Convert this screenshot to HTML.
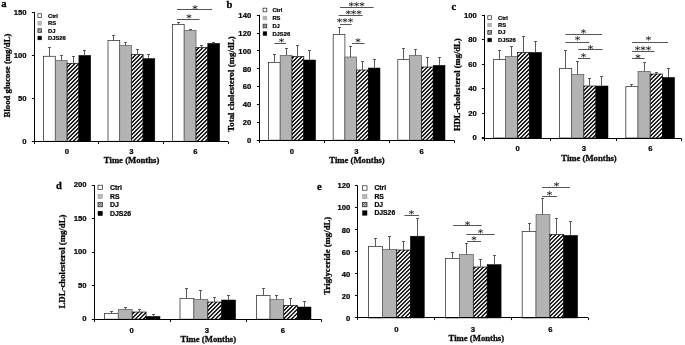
<!DOCTYPE html>
<html><head><meta charset="utf-8"><title>Figure</title>
<style>html,body{margin:0;padding:0;background:#fff;}body{width:685px;height:345px;overflow:hidden}</style>
</head><body>
<svg width="685" height="345" viewBox="0 0 685 345" style="display:block">
<defs>
<pattern id="hatch" patternUnits="userSpaceOnUse" width="3" height="3" patternTransform="translate(0.3 0)">
<rect width="3" height="3" fill="#fff"/>
<path d="M-1,1 L1,-1 M-0.5,3.5 L3.5,-0.5 M2,4 L4,2" stroke="#000" stroke-width="1.15"/>
</pattern>
<pattern id="hatchs" patternUnits="userSpaceOnUse" width="1.6" height="1.6">
<rect width="1.6" height="1.6" fill="#ddd"/>
<path d="M-0.4,0.4 L0.4,-0.4 M-0.2,1.8 L1.8,-0.2 M1.2,2 L2,1.2" stroke="#222" stroke-width="0.6"/>
</pattern>

<filter id="blur" x="-2%" y="-2%" width="104%" height="104%"><feGaussianBlur stdDeviation="0.25"/></filter>
</defs>
<rect width="685" height="345" fill="#fff"/>
<g>
<rect x="43.50" y="56.30" width="11.80" height="85.00" fill="#fff" stroke="#3a3a3a" stroke-width="0.8"/>
<rect x="55.30" y="60.50" width="11.80" height="80.80" fill="#b3b3b3" stroke="#5a5a5a" stroke-width="0.7"/>
<clipPath id="c1"><rect x="67.10" y="63.30" width="11.80" height="78.00"/></clipPath>
<rect x="67.10" y="63.30" width="11.80" height="78.00" fill="#fff"/>
<path d="M66.10,64.40L79.90,50.60M66.10,68.40L79.90,54.60M66.10,72.40L79.90,58.60M66.10,76.40L79.90,62.60M66.10,80.40L79.90,66.60M66.10,84.40L79.90,70.60M66.10,88.40L79.90,74.60M66.10,92.40L79.90,78.60M66.10,96.40L79.90,82.60M66.10,100.40L79.90,86.60M66.10,104.40L79.90,90.60M66.10,108.40L79.90,94.60M66.10,112.40L79.90,98.60M66.10,116.40L79.90,102.60M66.10,120.40L79.90,106.60M66.10,124.40L79.90,110.60M66.10,128.40L79.90,114.60M66.10,132.40L79.90,118.60M66.10,136.40L79.90,122.60M66.10,140.40L79.90,126.60M66.10,144.40L79.90,130.60M66.10,148.40L79.90,134.60M66.10,152.40L79.90,138.60M66.10,156.40L79.90,142.60" stroke="#000" stroke-width="1.32" fill="none" clip-path="url(#c1)"/>
<rect x="67.10" y="63.30" width="11.80" height="78.00" fill="none" stroke="#111" stroke-width="0.7"/>
<rect x="78.90" y="55.40" width="11.80" height="85.90" fill="#000" stroke="#000" stroke-width="0.5"/>
<rect x="108.00" y="40.40" width="11.70" height="100.90" fill="#fff" stroke="#3a3a3a" stroke-width="0.8"/>
<rect x="119.70" y="45.60" width="11.70" height="95.70" fill="#b3b3b3" stroke="#5a5a5a" stroke-width="0.7"/>
<clipPath id="c2"><rect x="131.40" y="54.40" width="11.70" height="86.90"/></clipPath>
<rect x="131.40" y="54.40" width="11.70" height="86.90" fill="#fff"/>
<path d="M130.40,56.10L144.10,42.40M130.40,60.10L144.10,46.40M130.40,64.10L144.10,50.40M130.40,68.10L144.10,54.40M130.40,72.10L144.10,58.40M130.40,76.10L144.10,62.40M130.40,80.10L144.10,66.40M130.40,84.10L144.10,70.40M130.40,88.10L144.10,74.40M130.40,92.10L144.10,78.40M130.40,96.10L144.10,82.40M130.40,100.10L144.10,86.40M130.40,104.10L144.10,90.40M130.40,108.10L144.10,94.40M130.40,112.10L144.10,98.40M130.40,116.10L144.10,102.40M130.40,120.10L144.10,106.40M130.40,124.10L144.10,110.40M130.40,128.10L144.10,114.40M130.40,132.10L144.10,118.40M130.40,136.10L144.10,122.40M130.40,140.10L144.10,126.40M130.40,144.10L144.10,130.40M130.40,148.10L144.10,134.40M130.40,152.10L144.10,138.40M130.40,156.10L144.10,142.40" stroke="#000" stroke-width="1.32" fill="none" clip-path="url(#c2)"/>
<rect x="131.40" y="54.40" width="11.70" height="86.90" fill="none" stroke="#111" stroke-width="0.7"/>
<rect x="143.10" y="58.60" width="11.70" height="82.70" fill="#000" stroke="#000" stroke-width="0.5"/>
<rect x="172.40" y="24.40" width="11.80" height="116.90" fill="#fff" stroke="#3a3a3a" stroke-width="0.8"/>
<rect x="184.20" y="30.40" width="11.80" height="110.90" fill="#b3b3b3" stroke="#5a5a5a" stroke-width="0.7"/>
<clipPath id="c3"><rect x="196.00" y="47.60" width="11.80" height="93.70"/></clipPath>
<rect x="196.00" y="47.60" width="11.80" height="93.70" fill="#fff"/>
<path d="M195.00,47.50L208.80,33.70M195.00,51.50L208.80,37.70M195.00,55.50L208.80,41.70M195.00,59.50L208.80,45.70M195.00,63.50L208.80,49.70M195.00,67.50L208.80,53.70M195.00,71.50L208.80,57.70M195.00,75.50L208.80,61.70M195.00,79.50L208.80,65.70M195.00,83.50L208.80,69.70M195.00,87.50L208.80,73.70M195.00,91.50L208.80,77.70M195.00,95.50L208.80,81.70M195.00,99.50L208.80,85.70M195.00,103.50L208.80,89.70M195.00,107.50L208.80,93.70M195.00,111.50L208.80,97.70M195.00,115.50L208.80,101.70M195.00,119.50L208.80,105.70M195.00,123.50L208.80,109.70M195.00,127.50L208.80,113.70M195.00,131.50L208.80,117.70M195.00,135.50L208.80,121.70M195.00,139.50L208.80,125.70M195.00,143.50L208.80,129.70M195.00,147.50L208.80,133.70M195.00,151.50L208.80,137.70M195.00,155.50L208.80,141.70" stroke="#000" stroke-width="1.32" fill="none" clip-path="url(#c3)"/>
<rect x="196.00" y="47.60" width="11.80" height="93.70" fill="none" stroke="#111" stroke-width="0.7"/>
<rect x="207.80" y="43.40" width="11.80" height="97.90" fill="#000" stroke="#000" stroke-width="0.5"/>
<rect x="268.40" y="62.40" width="11.80" height="77.80" fill="#fff" stroke="#3a3a3a" stroke-width="0.8"/>
<rect x="280.20" y="55.40" width="11.80" height="84.80" fill="#b3b3b3" stroke="#5a5a5a" stroke-width="0.7"/>
<clipPath id="c4"><rect x="292.00" y="56.60" width="11.80" height="83.60"/></clipPath>
<rect x="292.00" y="56.60" width="11.80" height="83.60" fill="#fff"/>
<path d="M291.00,59.50L304.80,45.70M291.00,63.50L304.80,49.70M291.00,67.50L304.80,53.70M291.00,71.50L304.80,57.70M291.00,75.50L304.80,61.70M291.00,79.50L304.80,65.70M291.00,83.50L304.80,69.70M291.00,87.50L304.80,73.70M291.00,91.50L304.80,77.70M291.00,95.50L304.80,81.70M291.00,99.50L304.80,85.70M291.00,103.50L304.80,89.70M291.00,107.50L304.80,93.70M291.00,111.50L304.80,97.70M291.00,115.50L304.80,101.70M291.00,119.50L304.80,105.70M291.00,123.50L304.80,109.70M291.00,127.50L304.80,113.70M291.00,131.50L304.80,117.70M291.00,135.50L304.80,121.70M291.00,139.50L304.80,125.70M291.00,143.50L304.80,129.70M291.00,147.50L304.80,133.70M291.00,151.50L304.80,137.70M291.00,155.50L304.80,141.70" stroke="#000" stroke-width="1.32" fill="none" clip-path="url(#c4)"/>
<rect x="292.00" y="56.60" width="11.80" height="83.60" fill="none" stroke="#111" stroke-width="0.7"/>
<rect x="303.80" y="60.00" width="11.80" height="80.20" fill="#000" stroke="#000" stroke-width="0.5"/>
<rect x="333.20" y="34.40" width="11.70" height="105.80" fill="#fff" stroke="#3a3a3a" stroke-width="0.8"/>
<rect x="344.90" y="57.00" width="11.70" height="83.20" fill="#b3b3b3" stroke="#5a5a5a" stroke-width="0.7"/>
<clipPath id="c5"><rect x="356.60" y="70.00" width="11.70" height="70.20"/></clipPath>
<rect x="356.60" y="70.00" width="11.70" height="70.20" fill="#fff"/>
<path d="M355.60,70.90L369.30,57.20M355.60,74.90L369.30,61.20M355.60,78.90L369.30,65.20M355.60,82.90L369.30,69.20M355.60,86.90L369.30,73.20M355.60,90.90L369.30,77.20M355.60,94.90L369.30,81.20M355.60,98.90L369.30,85.20M355.60,102.90L369.30,89.20M355.60,106.90L369.30,93.20M355.60,110.90L369.30,97.20M355.60,114.90L369.30,101.20M355.60,118.90L369.30,105.20M355.60,122.90L369.30,109.20M355.60,126.90L369.30,113.20M355.60,130.90L369.30,117.20M355.60,134.90L369.30,121.20M355.60,138.90L369.30,125.20M355.60,142.90L369.30,129.20M355.60,146.90L369.30,133.20M355.60,150.90L369.30,137.20M355.60,154.90L369.30,141.20" stroke="#000" stroke-width="1.32" fill="none" clip-path="url(#c5)"/>
<rect x="356.60" y="70.00" width="11.70" height="70.20" fill="none" stroke="#111" stroke-width="0.7"/>
<rect x="368.30" y="68.00" width="11.70" height="72.20" fill="#000" stroke="#000" stroke-width="0.5"/>
<rect x="397.80" y="59.60" width="11.80" height="80.60" fill="#fff" stroke="#3a3a3a" stroke-width="0.8"/>
<rect x="409.60" y="55.40" width="11.80" height="84.80" fill="#b3b3b3" stroke="#5a5a5a" stroke-width="0.7"/>
<clipPath id="c6"><rect x="421.40" y="67.00" width="11.80" height="73.20"/></clipPath>
<rect x="421.40" y="67.00" width="11.80" height="73.20" fill="#fff"/>
<path d="M420.40,70.10L434.20,56.30M420.40,74.10L434.20,60.30M420.40,78.10L434.20,64.30M420.40,82.10L434.20,68.30M420.40,86.10L434.20,72.30M420.40,90.10L434.20,76.30M420.40,94.10L434.20,80.30M420.40,98.10L434.20,84.30M420.40,102.10L434.20,88.30M420.40,106.10L434.20,92.30M420.40,110.10L434.20,96.30M420.40,114.10L434.20,100.30M420.40,118.10L434.20,104.30M420.40,122.10L434.20,108.30M420.40,126.10L434.20,112.30M420.40,130.10L434.20,116.30M420.40,134.10L434.20,120.30M420.40,138.10L434.20,124.30M420.40,142.10L434.20,128.30M420.40,146.10L434.20,132.30M420.40,150.10L434.20,136.30M420.40,154.10L434.20,140.30" stroke="#000" stroke-width="1.32" fill="none" clip-path="url(#c6)"/>
<rect x="421.40" y="67.00" width="11.80" height="73.20" fill="none" stroke="#111" stroke-width="0.7"/>
<rect x="433.20" y="65.40" width="11.80" height="74.80" fill="#000" stroke="#000" stroke-width="0.5"/>
<rect x="493.40" y="59.60" width="12.05" height="78.40" fill="#fff" stroke="#3a3a3a" stroke-width="0.8"/>
<rect x="505.45" y="56.40" width="12.05" height="81.60" fill="#b3b3b3" stroke="#5a5a5a" stroke-width="0.7"/>
<clipPath id="c7"><rect x="517.50" y="52.40" width="12.05" height="85.60"/></clipPath>
<rect x="517.50" y="52.40" width="12.05" height="85.60" fill="#fff"/>
<path d="M516.50,54.00L530.55,39.95M516.50,58.00L530.55,43.95M516.50,62.00L530.55,47.95M516.50,66.00L530.55,51.95M516.50,70.00L530.55,55.95M516.50,74.00L530.55,59.95M516.50,78.00L530.55,63.95M516.50,82.00L530.55,67.95M516.50,86.00L530.55,71.95M516.50,90.00L530.55,75.95M516.50,94.00L530.55,79.95M516.50,98.00L530.55,83.95M516.50,102.00L530.55,87.95M516.50,106.00L530.55,91.95M516.50,110.00L530.55,95.95M516.50,114.00L530.55,99.95M516.50,118.00L530.55,103.95M516.50,122.00L530.55,107.95M516.50,126.00L530.55,111.95M516.50,130.00L530.55,115.95M516.50,134.00L530.55,119.95M516.50,138.00L530.55,123.95M516.50,142.00L530.55,127.95M516.50,146.00L530.55,131.95M516.50,150.00L530.55,135.95M516.50,154.00L530.55,139.95" stroke="#000" stroke-width="1.32" fill="none" clip-path="url(#c7)"/>
<rect x="517.50" y="52.40" width="12.05" height="85.60" fill="none" stroke="#111" stroke-width="0.7"/>
<rect x="529.55" y="52.40" width="12.05" height="85.60" fill="#000" stroke="#000" stroke-width="0.5"/>
<rect x="559.60" y="68.40" width="12.10" height="69.60" fill="#fff" stroke="#3a3a3a" stroke-width="0.8"/>
<rect x="571.70" y="74.40" width="12.10" height="63.60" fill="#b3b3b3" stroke="#5a5a5a" stroke-width="0.7"/>
<clipPath id="c8"><rect x="583.80" y="86.00" width="12.10" height="52.00"/></clipPath>
<rect x="583.80" y="86.00" width="12.10" height="52.00" fill="#fff"/>
<path d="M582.80,87.70L596.90,73.60M582.80,91.70L596.90,77.60M582.80,95.70L596.90,81.60M582.80,99.70L596.90,85.60M582.80,103.70L596.90,89.60M582.80,107.70L596.90,93.60M582.80,111.70L596.90,97.60M582.80,115.70L596.90,101.60M582.80,119.70L596.90,105.60M582.80,123.70L596.90,109.60M582.80,127.70L596.90,113.60M582.80,131.70L596.90,117.60M582.80,135.70L596.90,121.60M582.80,139.70L596.90,125.60M582.80,143.70L596.90,129.60M582.80,147.70L596.90,133.60M582.80,151.70L596.90,137.60" stroke="#000" stroke-width="1.32" fill="none" clip-path="url(#c8)"/>
<rect x="583.80" y="86.00" width="12.10" height="52.00" fill="none" stroke="#111" stroke-width="0.7"/>
<rect x="595.90" y="86.00" width="12.10" height="52.00" fill="#000" stroke="#000" stroke-width="0.5"/>
<rect x="625.80" y="86.60" width="12.20" height="51.40" fill="#fff" stroke="#3a3a3a" stroke-width="0.8"/>
<rect x="638.00" y="71.40" width="12.20" height="66.60" fill="#b3b3b3" stroke="#5a5a5a" stroke-width="0.7"/>
<clipPath id="c9"><rect x="650.20" y="74.00" width="12.20" height="64.00"/></clipPath>
<rect x="650.20" y="74.00" width="12.20" height="64.00" fill="#fff"/>
<path d="M649.20,77.30L663.40,63.10M649.20,81.30L663.40,67.10M649.20,85.30L663.40,71.10M649.20,89.30L663.40,75.10M649.20,93.30L663.40,79.10M649.20,97.30L663.40,83.10M649.20,101.30L663.40,87.10M649.20,105.30L663.40,91.10M649.20,109.30L663.40,95.10M649.20,113.30L663.40,99.10M649.20,117.30L663.40,103.10M649.20,121.30L663.40,107.10M649.20,125.30L663.40,111.10M649.20,129.30L663.40,115.10M649.20,133.30L663.40,119.10M649.20,137.30L663.40,123.10M649.20,141.30L663.40,127.10M649.20,145.30L663.40,131.10M649.20,149.30L663.40,135.10M649.20,153.30L663.40,139.10" stroke="#000" stroke-width="1.32" fill="none" clip-path="url(#c9)"/>
<rect x="650.20" y="74.00" width="12.20" height="64.00" fill="none" stroke="#111" stroke-width="0.7"/>
<rect x="662.40" y="77.40" width="12.20" height="60.60" fill="#000" stroke="#000" stroke-width="0.5"/>
<rect x="104.40" y="313.40" width="13.90" height="5.80" fill="#fff" stroke="#3a3a3a" stroke-width="0.8"/>
<rect x="118.30" y="309.40" width="13.90" height="9.80" fill="#b3b3b3" stroke="#5a5a5a" stroke-width="0.7"/>
<clipPath id="c10"><rect x="132.20" y="312.00" width="13.90" height="7.20"/></clipPath>
<rect x="132.20" y="312.00" width="13.90" height="7.20" fill="#fff"/>
<path d="M131.20,315.30L147.10,299.40M131.20,319.30L147.10,303.40M131.20,323.30L147.10,307.40M131.20,327.30L147.10,311.40M131.20,331.30L147.10,315.40M131.20,335.30L147.10,319.40" stroke="#000" stroke-width="1.32" fill="none" clip-path="url(#c10)"/>
<rect x="132.20" y="312.00" width="13.90" height="7.20" fill="none" stroke="#111" stroke-width="0.7"/>
<rect x="146.10" y="316.40" width="13.90" height="2.80" fill="#000" stroke="#000" stroke-width="0.5"/>
<rect x="180.00" y="298.40" width="13.90" height="20.80" fill="#fff" stroke="#3a3a3a" stroke-width="0.8"/>
<rect x="193.90" y="299.40" width="13.90" height="19.80" fill="#b3b3b3" stroke="#5a5a5a" stroke-width="0.7"/>
<clipPath id="c11"><rect x="207.80" y="302.00" width="13.90" height="17.20"/></clipPath>
<rect x="207.80" y="302.00" width="13.90" height="17.20" fill="#fff"/>
<path d="M206.80,303.70L222.70,287.80M206.80,307.70L222.70,291.80M206.80,311.70L222.70,295.80M206.80,315.70L222.70,299.80M206.80,319.70L222.70,303.80M206.80,323.70L222.70,307.80M206.80,327.70L222.70,311.80M206.80,331.70L222.70,315.80M206.80,335.70L222.70,319.80" stroke="#000" stroke-width="1.32" fill="none" clip-path="url(#c11)"/>
<rect x="207.80" y="302.00" width="13.90" height="17.20" fill="none" stroke="#111" stroke-width="0.7"/>
<rect x="221.70" y="300.00" width="13.90" height="19.20" fill="#000" stroke="#000" stroke-width="0.5"/>
<rect x="256.40" y="295.40" width="13.65" height="23.80" fill="#fff" stroke="#3a3a3a" stroke-width="0.8"/>
<rect x="270.05" y="299.60" width="13.65" height="19.60" fill="#b3b3b3" stroke="#5a5a5a" stroke-width="0.7"/>
<clipPath id="c12"><rect x="283.70" y="305.40" width="13.65" height="13.80"/></clipPath>
<rect x="283.70" y="305.40" width="13.65" height="13.80" fill="#fff"/>
<path d="M282.70,307.80L298.35,292.15M282.70,311.80L298.35,296.15M282.70,315.80L298.35,300.15M282.70,319.80L298.35,304.15M282.70,323.80L298.35,308.15M282.70,327.80L298.35,312.15M282.70,331.80L298.35,316.15M282.70,335.80L298.35,320.15" stroke="#000" stroke-width="1.32" fill="none" clip-path="url(#c12)"/>
<rect x="283.70" y="305.40" width="13.65" height="13.80" fill="none" stroke="#111" stroke-width="0.7"/>
<rect x="297.35" y="307.00" width="13.65" height="12.20" fill="#000" stroke="#000" stroke-width="0.5"/>
<rect x="368.50" y="246.40" width="13.95" height="71.55" fill="#fff" stroke="#3a3a3a" stroke-width="0.8"/>
<rect x="382.45" y="249.40" width="13.95" height="68.55" fill="#b3b3b3" stroke="#5a5a5a" stroke-width="0.7"/>
<clipPath id="c13"><rect x="396.40" y="250.00" width="13.95" height="67.95"/></clipPath>
<rect x="396.40" y="250.00" width="13.95" height="67.95" fill="#fff"/>
<path d="M395.40,251.10L411.35,235.15M395.40,255.10L411.35,239.15M395.40,259.10L411.35,243.15M395.40,263.10L411.35,247.15M395.40,267.10L411.35,251.15M395.40,271.10L411.35,255.15M395.40,275.10L411.35,259.15M395.40,279.10L411.35,263.15M395.40,283.10L411.35,267.15M395.40,287.10L411.35,271.15M395.40,291.10L411.35,275.15M395.40,295.10L411.35,279.15M395.40,299.10L411.35,283.15M395.40,303.10L411.35,287.15M395.40,307.10L411.35,291.15M395.40,311.10L411.35,295.15M395.40,315.10L411.35,299.15M395.40,319.10L411.35,303.15M395.40,323.10L411.35,307.15M395.40,327.10L411.35,311.15M395.40,331.10L411.35,315.15M395.40,335.10L411.35,319.15" stroke="#000" stroke-width="1.32" fill="none" clip-path="url(#c13)"/>
<rect x="396.40" y="250.00" width="13.95" height="67.95" fill="none" stroke="#111" stroke-width="0.7"/>
<rect x="410.35" y="236.20" width="13.95" height="81.75" fill="#000" stroke="#000" stroke-width="0.5"/>
<rect x="445.50" y="258.40" width="13.90" height="59.55" fill="#fff" stroke="#3a3a3a" stroke-width="0.8"/>
<rect x="459.40" y="254.60" width="13.90" height="63.35" fill="#b3b3b3" stroke="#5a5a5a" stroke-width="0.7"/>
<clipPath id="c14"><rect x="473.30" y="267.00" width="13.90" height="50.95"/></clipPath>
<rect x="473.30" y="267.00" width="13.90" height="50.95" fill="#fff"/>
<path d="M472.30,270.20L488.20,254.30M472.30,274.20L488.20,258.30M472.30,278.20L488.20,262.30M472.30,282.20L488.20,266.30M472.30,286.20L488.20,270.30M472.30,290.20L488.20,274.30M472.30,294.20L488.20,278.30M472.30,298.20L488.20,282.30M472.30,302.20L488.20,286.30M472.30,306.20L488.20,290.30M472.30,310.20L488.20,294.30M472.30,314.20L488.20,298.30M472.30,318.20L488.20,302.30M472.30,322.20L488.20,306.30M472.30,326.20L488.20,310.30M472.30,330.20L488.20,314.30M472.30,334.20L488.20,318.30" stroke="#000" stroke-width="1.32" fill="none" clip-path="url(#c14)"/>
<rect x="473.30" y="267.00" width="13.90" height="50.95" fill="none" stroke="#111" stroke-width="0.7"/>
<rect x="487.20" y="264.60" width="13.90" height="53.35" fill="#000" stroke="#000" stroke-width="0.5"/>
<rect x="522.20" y="231.40" width="13.85" height="86.55" fill="#fff" stroke="#3a3a3a" stroke-width="0.8"/>
<rect x="536.05" y="214.60" width="13.85" height="103.35" fill="#b3b3b3" stroke="#5a5a5a" stroke-width="0.7"/>
<clipPath id="c15"><rect x="549.90" y="234.60" width="13.85" height="83.35"/></clipPath>
<rect x="549.90" y="234.60" width="13.85" height="83.35" fill="#fff"/>
<path d="M548.90,237.60L564.75,221.75M548.90,241.60L564.75,225.75M548.90,245.60L564.75,229.75M548.90,249.60L564.75,233.75M548.90,253.60L564.75,237.75M548.90,257.60L564.75,241.75M548.90,261.60L564.75,245.75M548.90,265.60L564.75,249.75M548.90,269.60L564.75,253.75M548.90,273.60L564.75,257.75M548.90,277.60L564.75,261.75M548.90,281.60L564.75,265.75M548.90,285.60L564.75,269.75M548.90,289.60L564.75,273.75M548.90,293.60L564.75,277.75M548.90,297.60L564.75,281.75M548.90,301.60L564.75,285.75M548.90,305.60L564.75,289.75M548.90,309.60L564.75,293.75M548.90,313.60L564.75,297.75M548.90,317.60L564.75,301.75M548.90,321.60L564.75,305.75M548.90,325.60L564.75,309.75M548.90,329.60L564.75,313.75M548.90,333.60L564.75,317.75" stroke="#000" stroke-width="1.32" fill="none" clip-path="url(#c15)"/>
<rect x="549.90" y="234.60" width="13.85" height="83.35" fill="none" stroke="#111" stroke-width="0.7"/>
<rect x="563.75" y="235.40" width="13.85" height="82.55" fill="#000" stroke="#000" stroke-width="0.5"/>
</g>
<g filter="url(#blur)">
<line x1="49.50" y1="56.30" x2="49.50" y2="47.50" stroke="#4a4a4a" stroke-width="0.9"/>
<line x1="48.00" y1="47.50" x2="51.00" y2="47.50" stroke="#4a4a4a" stroke-width="0.9"/>
<line x1="61.50" y1="60.50" x2="61.50" y2="55.50" stroke="#4a4a4a" stroke-width="0.9"/>
<line x1="60.00" y1="55.50" x2="63.00" y2="55.50" stroke="#4a4a4a" stroke-width="0.9"/>
<line x1="73.50" y1="63.30" x2="73.50" y2="56.50" stroke="#4a4a4a" stroke-width="0.9"/>
<line x1="72.00" y1="56.50" x2="75.00" y2="56.50" stroke="#4a4a4a" stroke-width="0.9"/>
<line x1="84.50" y1="55.40" x2="84.50" y2="50.50" stroke="#4a4a4a" stroke-width="0.9"/>
<line x1="83.00" y1="50.50" x2="86.00" y2="50.50" stroke="#4a4a4a" stroke-width="0.9"/>
<line x1="113.50" y1="40.40" x2="113.50" y2="35.50" stroke="#4a4a4a" stroke-width="0.9"/>
<line x1="112.00" y1="35.50" x2="115.00" y2="35.50" stroke="#4a4a4a" stroke-width="0.9"/>
<line x1="125.50" y1="45.60" x2="125.50" y2="42.50" stroke="#4a4a4a" stroke-width="0.9"/>
<line x1="124.00" y1="42.50" x2="127.00" y2="42.50" stroke="#4a4a4a" stroke-width="0.9"/>
<line x1="137.50" y1="54.40" x2="137.50" y2="49.50" stroke="#4a4a4a" stroke-width="0.9"/>
<line x1="136.00" y1="49.50" x2="139.00" y2="49.50" stroke="#4a4a4a" stroke-width="0.9"/>
<line x1="148.50" y1="58.60" x2="148.50" y2="54.50" stroke="#4a4a4a" stroke-width="0.9"/>
<line x1="147.00" y1="54.50" x2="150.00" y2="54.50" stroke="#4a4a4a" stroke-width="0.9"/>
<line x1="178.50" y1="24.40" x2="178.50" y2="22.50" stroke="#4a4a4a" stroke-width="0.9"/>
<line x1="177.00" y1="22.50" x2="180.00" y2="22.50" stroke="#4a4a4a" stroke-width="0.9"/>
<line x1="190.50" y1="30.40" x2="190.50" y2="29.50" stroke="#4a4a4a" stroke-width="0.9"/>
<line x1="189.00" y1="29.50" x2="192.00" y2="29.50" stroke="#4a4a4a" stroke-width="0.9"/>
<line x1="201.50" y1="47.60" x2="201.50" y2="45.50" stroke="#4a4a4a" stroke-width="0.9"/>
<line x1="200.00" y1="45.50" x2="203.00" y2="45.50" stroke="#4a4a4a" stroke-width="0.9"/>
<line x1="213.50" y1="43.40" x2="213.50" y2="42.50" stroke="#4a4a4a" stroke-width="0.9"/>
<line x1="212.00" y1="42.50" x2="215.00" y2="42.50" stroke="#4a4a4a" stroke-width="0.9"/>
<line x1="34.50" y1="12.20" x2="34.50" y2="143.90" stroke="#000" stroke-width="1.05"/>
<line x1="31.90" y1="141.50" x2="228.00" y2="141.50" stroke="#000" stroke-width="1.05"/>
<line x1="98.50" y1="141.50" x2="98.50" y2="144.10" stroke="#000" stroke-width="0.95"/>
<line x1="163.50" y1="141.50" x2="163.50" y2="144.10" stroke="#000" stroke-width="0.95"/>
<line x1="228.50" y1="141.50" x2="228.50" y2="144.10" stroke="#000" stroke-width="0.95"/>
<line x1="31.90" y1="12.50" x2="34.50" y2="12.50" stroke="#000" stroke-width="0.95"/>
<text x="26.50" y="15.00" font-family='"Liberation Sans", sans-serif' font-size="7.7" font-weight="bold" text-anchor="end" fill="#000"  stroke="#000" stroke-width="0.22">150</text>
<line x1="31.90" y1="55.50" x2="34.50" y2="55.50" stroke="#000" stroke-width="0.95"/>
<text x="26.50" y="58.00" font-family='"Liberation Sans", sans-serif' font-size="7.7" font-weight="bold" text-anchor="end" fill="#000"  stroke="#000" stroke-width="0.22">100</text>
<line x1="31.90" y1="98.50" x2="34.50" y2="98.50" stroke="#000" stroke-width="0.95"/>
<text x="26.50" y="101.00" font-family='"Liberation Sans", sans-serif' font-size="7.7" font-weight="bold" text-anchor="end" fill="#000"  stroke="#000" stroke-width="0.22">50</text>
<line x1="31.90" y1="141.50" x2="34.50" y2="141.50" stroke="#000" stroke-width="0.95"/>
<text x="26.50" y="144.00" font-family='"Liberation Sans", sans-serif' font-size="7.7" font-weight="bold" text-anchor="end" fill="#000"  stroke="#000" stroke-width="0.22">0</text>
<text x="67.00" y="154.00" font-family='"Liberation Sans", sans-serif' font-size="7.7" font-weight="bold" text-anchor="middle" fill="#000"  stroke="#000" stroke-width="0.22">0</text>
<text x="131.40" y="154.00" font-family='"Liberation Sans", sans-serif' font-size="7.7" font-weight="bold" text-anchor="middle" fill="#000"  stroke="#000" stroke-width="0.22">3</text>
<text x="195.40" y="154.00" font-family='"Liberation Sans", sans-serif' font-size="7.7" font-weight="bold" text-anchor="middle" fill="#000"  stroke="#000" stroke-width="0.22">6</text>
<text x="131.60" y="162.80" font-family='"Liberation Serif", serif' font-size="8.6" font-weight="bold" text-anchor="middle" fill="#111" textLength="55.5" lengthAdjust="spacingAndGlyphs" stroke="#000" stroke-width="0.28">Time (Months)</text>
<text transform="translate(9.80,75.50) rotate(-90)" font-family='"Liberation Serif", serif' font-size="8.3" font-weight="bold" text-anchor="middle" fill="#000" stroke="#000" stroke-width="0.28" textLength="83.8" lengthAdjust="spacingAndGlyphs">Blood glucose (mg/dL)</text>
<text x="1.20" y="7.20" font-family='"Liberation Serif", serif' font-size="10.5" font-weight="bold" text-anchor="start" fill="#000"  stroke="#000" stroke-width="0.28">a</text>
<rect x="37.90" y="13.75" width="3.70" height="3.70" fill="#fff" stroke="#222" stroke-width="0.7"/>
<text x="48.00" y="17.68" font-family='"Liberation Sans", sans-serif' font-size="5.8" font-weight="bold" text-anchor="start" fill="#000"  stroke="#000" stroke-width="0.22">Ctrl</text>
<rect x="37.90" y="21.35" width="3.70" height="3.70" fill="#b8b8b8" stroke="#999" stroke-width="0.5"/>
<text x="48.00" y="25.28" font-family='"Liberation Sans", sans-serif' font-size="5.8" font-weight="bold" text-anchor="start" fill="#000"  stroke="#000" stroke-width="0.22">RS</text>
<rect x="37.90" y="28.75" width="3.70" height="3.70" fill="url(#hatchs)" stroke="#222" stroke-width="0.7"/>
<text x="48.00" y="32.68" font-family='"Liberation Sans", sans-serif' font-size="5.8" font-weight="bold" text-anchor="start" fill="#000"  stroke="#000" stroke-width="0.22">DJ</text>
<rect x="37.90" y="36.15" width="3.70" height="3.70" fill="#000" stroke="#000" stroke-width="0.5"/>
<text x="48.00" y="40.08" font-family='"Liberation Sans", sans-serif' font-size="5.8" font-weight="bold" text-anchor="start" fill="#000"  stroke="#000" stroke-width="0.22">DJS26</text>
<line x1="177.00" y1="9.50" x2="212.00" y2="9.50" stroke="#555" stroke-width="1.0"/>
<text x="195.00" y="13" font-family='"Liberation Serif", serif' font-size="12" text-anchor="middle" fill="#000" text-rendering="geometricPrecision">*</text>
<line x1="177.00" y1="19.50" x2="199.40" y2="19.50" stroke="#555" stroke-width="1.0"/>
<text x="189.00" y="22" font-family='"Liberation Serif", serif' font-size="12" text-anchor="middle" fill="#000" text-rendering="geometricPrecision">*</text>
<line x1="274.50" y1="62.40" x2="274.50" y2="54.50" stroke="#4a4a4a" stroke-width="0.9"/>
<line x1="273.00" y1="54.50" x2="276.00" y2="54.50" stroke="#4a4a4a" stroke-width="0.9"/>
<line x1="286.50" y1="55.40" x2="286.50" y2="48.50" stroke="#4a4a4a" stroke-width="0.9"/>
<line x1="285.00" y1="48.50" x2="288.00" y2="48.50" stroke="#4a4a4a" stroke-width="0.9"/>
<line x1="297.50" y1="56.60" x2="297.50" y2="45.50" stroke="#4a4a4a" stroke-width="0.9"/>
<line x1="296.00" y1="45.50" x2="299.00" y2="45.50" stroke="#4a4a4a" stroke-width="0.9"/>
<line x1="309.50" y1="60.00" x2="309.50" y2="50.50" stroke="#4a4a4a" stroke-width="0.9"/>
<line x1="308.00" y1="50.50" x2="311.00" y2="50.50" stroke="#4a4a4a" stroke-width="0.9"/>
<line x1="339.50" y1="34.40" x2="339.50" y2="27.50" stroke="#4a4a4a" stroke-width="0.9"/>
<line x1="338.00" y1="27.50" x2="341.00" y2="27.50" stroke="#4a4a4a" stroke-width="0.9"/>
<line x1="350.50" y1="57.00" x2="350.50" y2="46.50" stroke="#4a4a4a" stroke-width="0.9"/>
<line x1="349.00" y1="46.50" x2="352.00" y2="46.50" stroke="#4a4a4a" stroke-width="0.9"/>
<line x1="362.50" y1="70.00" x2="362.50" y2="61.50" stroke="#4a4a4a" stroke-width="0.9"/>
<line x1="361.00" y1="61.50" x2="364.00" y2="61.50" stroke="#4a4a4a" stroke-width="0.9"/>
<line x1="374.50" y1="68.00" x2="374.50" y2="59.50" stroke="#4a4a4a" stroke-width="0.9"/>
<line x1="373.00" y1="59.50" x2="376.00" y2="59.50" stroke="#4a4a4a" stroke-width="0.9"/>
<line x1="403.50" y1="59.60" x2="403.50" y2="48.50" stroke="#4a4a4a" stroke-width="0.9"/>
<line x1="402.00" y1="48.50" x2="405.00" y2="48.50" stroke="#4a4a4a" stroke-width="0.9"/>
<line x1="415.50" y1="55.40" x2="415.50" y2="49.50" stroke="#4a4a4a" stroke-width="0.9"/>
<line x1="414.00" y1="49.50" x2="417.00" y2="49.50" stroke="#4a4a4a" stroke-width="0.9"/>
<line x1="427.50" y1="67.00" x2="427.50" y2="57.50" stroke="#4a4a4a" stroke-width="0.9"/>
<line x1="426.00" y1="57.50" x2="429.00" y2="57.50" stroke="#4a4a4a" stroke-width="0.9"/>
<line x1="439.50" y1="65.40" x2="439.50" y2="57.50" stroke="#4a4a4a" stroke-width="0.9"/>
<line x1="438.00" y1="57.50" x2="441.00" y2="57.50" stroke="#4a4a4a" stroke-width="0.9"/>
<line x1="259.50" y1="14.80" x2="259.50" y2="142.90" stroke="#000" stroke-width="1.05"/>
<line x1="256.90" y1="140.50" x2="454.40" y2="140.50" stroke="#000" stroke-width="1.05"/>
<line x1="324.50" y1="140.50" x2="324.50" y2="143.10" stroke="#000" stroke-width="0.95"/>
<line x1="389.50" y1="140.50" x2="389.50" y2="143.10" stroke="#000" stroke-width="0.95"/>
<line x1="454.50" y1="140.50" x2="454.50" y2="143.10" stroke="#000" stroke-width="0.95"/>
<line x1="256.90" y1="15.50" x2="259.50" y2="15.50" stroke="#000" stroke-width="0.95"/>
<text x="251.20" y="18.00" font-family='"Liberation Sans", sans-serif' font-size="7.7" font-weight="bold" text-anchor="end" fill="#000"  stroke="#000" stroke-width="0.22">140</text>
<line x1="256.90" y1="33.50" x2="259.50" y2="33.50" stroke="#000" stroke-width="0.95"/>
<text x="251.20" y="36.00" font-family='"Liberation Sans", sans-serif' font-size="7.7" font-weight="bold" text-anchor="end" fill="#000"  stroke="#000" stroke-width="0.22">120</text>
<line x1="256.90" y1="50.50" x2="259.50" y2="50.50" stroke="#000" stroke-width="0.95"/>
<text x="251.20" y="54.00" font-family='"Liberation Sans", sans-serif' font-size="7.7" font-weight="bold" text-anchor="end" fill="#000"  stroke="#000" stroke-width="0.22">100</text>
<line x1="256.90" y1="68.50" x2="259.50" y2="68.50" stroke="#000" stroke-width="0.95"/>
<text x="251.20" y="72.00" font-family='"Liberation Sans", sans-serif' font-size="7.7" font-weight="bold" text-anchor="end" fill="#000"  stroke="#000" stroke-width="0.22">80</text>
<line x1="256.90" y1="86.50" x2="259.50" y2="86.50" stroke="#000" stroke-width="0.95"/>
<text x="251.20" y="89.00" font-family='"Liberation Sans", sans-serif' font-size="7.7" font-weight="bold" text-anchor="end" fill="#000"  stroke="#000" stroke-width="0.22">60</text>
<line x1="256.90" y1="104.50" x2="259.50" y2="104.50" stroke="#000" stroke-width="0.95"/>
<text x="251.20" y="107.00" font-family='"Liberation Sans", sans-serif' font-size="7.7" font-weight="bold" text-anchor="end" fill="#000"  stroke="#000" stroke-width="0.22">40</text>
<line x1="256.90" y1="122.50" x2="259.50" y2="122.50" stroke="#000" stroke-width="0.95"/>
<text x="251.20" y="125.00" font-family='"Liberation Sans", sans-serif' font-size="7.7" font-weight="bold" text-anchor="end" fill="#000"  stroke="#000" stroke-width="0.22">20</text>
<line x1="256.90" y1="140.50" x2="259.50" y2="140.50" stroke="#000" stroke-width="0.95"/>
<text x="251.20" y="143.00" font-family='"Liberation Sans", sans-serif' font-size="7.7" font-weight="bold" text-anchor="end" fill="#000"  stroke="#000" stroke-width="0.22">0</text>
<text x="292.00" y="154.00" font-family='"Liberation Sans", sans-serif' font-size="7.7" font-weight="bold" text-anchor="middle" fill="#000"  stroke="#000" stroke-width="0.22">0</text>
<text x="356.40" y="154.00" font-family='"Liberation Sans", sans-serif' font-size="7.7" font-weight="bold" text-anchor="middle" fill="#000"  stroke="#000" stroke-width="0.22">3</text>
<text x="421.60" y="154.00" font-family='"Liberation Sans", sans-serif' font-size="7.7" font-weight="bold" text-anchor="middle" fill="#000"  stroke="#000" stroke-width="0.22">6</text>
<text x="357.00" y="162.80" font-family='"Liberation Serif", serif' font-size="8.6" font-weight="bold" text-anchor="middle" fill="#111" textLength="55.5" lengthAdjust="spacingAndGlyphs" stroke="#000" stroke-width="0.28">Time (Months)</text>
<text transform="translate(233.80,84.10) rotate(-90)" font-family='"Liberation Serif", serif' font-size="8.3" font-weight="bold" text-anchor="middle" fill="#000" stroke="#000" stroke-width="0.28" textLength="95.4" lengthAdjust="spacingAndGlyphs">Total cholesterol (mg/dL)</text>
<text x="226.60" y="8.40" font-family='"Liberation Serif", serif' font-size="10.5" font-weight="bold" text-anchor="start" fill="#000"  stroke="#000" stroke-width="0.28">b</text>
<rect x="263.10" y="8.15" width="3.70" height="3.70" fill="#fff" stroke="#222" stroke-width="0.7"/>
<text x="272.40" y="12.08" font-family='"Liberation Sans", sans-serif' font-size="5.8" font-weight="bold" text-anchor="start" fill="#000"  stroke="#000" stroke-width="0.22">Ctrl</text>
<rect x="263.10" y="16.15" width="3.70" height="3.70" fill="#b8b8b8" stroke="#999" stroke-width="0.5"/>
<text x="272.40" y="20.08" font-family='"Liberation Sans", sans-serif' font-size="5.8" font-weight="bold" text-anchor="start" fill="#000"  stroke="#000" stroke-width="0.22">RS</text>
<rect x="263.10" y="24.15" width="3.70" height="3.70" fill="url(#hatchs)" stroke="#222" stroke-width="0.7"/>
<text x="272.40" y="28.08" font-family='"Liberation Sans", sans-serif' font-size="5.8" font-weight="bold" text-anchor="start" fill="#000"  stroke="#000" stroke-width="0.22">DJ</text>
<rect x="263.10" y="31.75" width="3.70" height="3.70" fill="#000" stroke="#000" stroke-width="0.5"/>
<text x="272.40" y="35.68" font-family='"Liberation Sans", sans-serif' font-size="5.8" font-weight="bold" text-anchor="start" fill="#000"  stroke="#000" stroke-width="0.22">DJS26</text>
<line x1="274.40" y1="43.50" x2="286.00" y2="43.50" stroke="#555" stroke-width="1.0"/>
<text x="281.60" y="46" font-family='"Liberation Serif", serif' font-size="12" text-anchor="middle" fill="#000" text-rendering="geometricPrecision">*</text>
<line x1="340.00" y1="7.50" x2="373.60" y2="7.50" stroke="#555" stroke-width="1.0"/>
<text x="356.30" y="10" font-family='"Liberation Serif", serif' font-size="12" text-anchor="middle" fill="#000" text-rendering="geometricPrecision" letter-spacing="-0.6">***</text>
<line x1="338.60" y1="15.50" x2="362.60" y2="15.50" stroke="#555" stroke-width="1.0"/>
<text x="353.30" y="18" font-family='"Liberation Serif", serif' font-size="12" text-anchor="middle" fill="#000" text-rendering="geometricPrecision" letter-spacing="-0.6">***</text>
<line x1="340.00" y1="24.50" x2="351.60" y2="24.50" stroke="#555" stroke-width="1.0"/>
<text x="344.70" y="26" font-family='"Liberation Serif", serif' font-size="12" text-anchor="middle" fill="#000" text-rendering="geometricPrecision" letter-spacing="-0.6">***</text>
<line x1="352.00" y1="43.50" x2="364.60" y2="43.50" stroke="#555" stroke-width="1.0"/>
<text x="358.00" y="46" font-family='"Liberation Serif", serif' font-size="12" text-anchor="middle" fill="#000" text-rendering="geometricPrecision">*</text>
<line x1="499.50" y1="59.60" x2="499.50" y2="50.50" stroke="#4a4a4a" stroke-width="0.9"/>
<line x1="498.00" y1="50.50" x2="501.00" y2="50.50" stroke="#4a4a4a" stroke-width="0.9"/>
<line x1="511.50" y1="56.40" x2="511.50" y2="46.50" stroke="#4a4a4a" stroke-width="0.9"/>
<line x1="510.00" y1="46.50" x2="513.00" y2="46.50" stroke="#4a4a4a" stroke-width="0.9"/>
<line x1="523.50" y1="52.40" x2="523.50" y2="36.50" stroke="#4a4a4a" stroke-width="0.9"/>
<line x1="522.00" y1="36.50" x2="525.00" y2="36.50" stroke="#4a4a4a" stroke-width="0.9"/>
<line x1="535.50" y1="52.40" x2="535.50" y2="41.50" stroke="#4a4a4a" stroke-width="0.9"/>
<line x1="534.00" y1="41.50" x2="537.00" y2="41.50" stroke="#4a4a4a" stroke-width="0.9"/>
<line x1="565.50" y1="68.40" x2="565.50" y2="50.50" stroke="#4a4a4a" stroke-width="0.9"/>
<line x1="564.00" y1="50.50" x2="567.00" y2="50.50" stroke="#4a4a4a" stroke-width="0.9"/>
<line x1="577.50" y1="74.40" x2="577.50" y2="61.50" stroke="#4a4a4a" stroke-width="0.9"/>
<line x1="576.00" y1="61.50" x2="579.00" y2="61.50" stroke="#4a4a4a" stroke-width="0.9"/>
<line x1="589.50" y1="86.00" x2="589.50" y2="78.50" stroke="#4a4a4a" stroke-width="0.9"/>
<line x1="588.00" y1="78.50" x2="591.00" y2="78.50" stroke="#4a4a4a" stroke-width="0.9"/>
<line x1="601.50" y1="86.00" x2="601.50" y2="76.50" stroke="#4a4a4a" stroke-width="0.9"/>
<line x1="600.00" y1="76.50" x2="603.00" y2="76.50" stroke="#4a4a4a" stroke-width="0.9"/>
<line x1="631.50" y1="86.60" x2="631.50" y2="84.50" stroke="#4a4a4a" stroke-width="0.9"/>
<line x1="630.00" y1="84.50" x2="633.00" y2="84.50" stroke="#4a4a4a" stroke-width="0.9"/>
<line x1="644.50" y1="71.40" x2="644.50" y2="62.50" stroke="#4a4a4a" stroke-width="0.9"/>
<line x1="643.00" y1="62.50" x2="646.00" y2="62.50" stroke="#4a4a4a" stroke-width="0.9"/>
<line x1="656.50" y1="74.00" x2="656.50" y2="72.50" stroke="#4a4a4a" stroke-width="0.9"/>
<line x1="655.00" y1="72.50" x2="658.00" y2="72.50" stroke="#4a4a4a" stroke-width="0.9"/>
<line x1="668.50" y1="77.40" x2="668.50" y2="68.50" stroke="#4a4a4a" stroke-width="0.9"/>
<line x1="667.00" y1="68.50" x2="670.00" y2="68.50" stroke="#4a4a4a" stroke-width="0.9"/>
<line x1="484.50" y1="14.80" x2="484.50" y2="140.90" stroke="#000" stroke-width="1.05"/>
<line x1="481.90" y1="138.50" x2="681.60" y2="138.50" stroke="#000" stroke-width="1.05"/>
<line x1="550.50" y1="138.50" x2="550.50" y2="141.10" stroke="#000" stroke-width="0.95"/>
<line x1="616.50" y1="138.50" x2="616.50" y2="141.10" stroke="#000" stroke-width="0.95"/>
<line x1="681.50" y1="138.50" x2="681.50" y2="141.10" stroke="#000" stroke-width="0.95"/>
<line x1="481.90" y1="15.50" x2="484.50" y2="15.50" stroke="#000" stroke-width="0.95"/>
<text x="476.80" y="18.00" font-family='"Liberation Sans", sans-serif' font-size="7.7" font-weight="bold" text-anchor="end" fill="#000"  stroke="#000" stroke-width="0.22">100</text>
<line x1="481.90" y1="39.50" x2="484.50" y2="39.50" stroke="#000" stroke-width="0.95"/>
<text x="476.80" y="42.00" font-family='"Liberation Sans", sans-serif' font-size="7.7" font-weight="bold" text-anchor="end" fill="#000"  stroke="#000" stroke-width="0.22">80</text>
<line x1="481.90" y1="64.50" x2="484.50" y2="64.50" stroke="#000" stroke-width="0.95"/>
<text x="476.80" y="67.00" font-family='"Liberation Sans", sans-serif' font-size="7.7" font-weight="bold" text-anchor="end" fill="#000"  stroke="#000" stroke-width="0.22">60</text>
<line x1="481.90" y1="88.50" x2="484.50" y2="88.50" stroke="#000" stroke-width="0.95"/>
<text x="476.80" y="91.00" font-family='"Liberation Sans", sans-serif' font-size="7.7" font-weight="bold" text-anchor="end" fill="#000"  stroke="#000" stroke-width="0.22">40</text>
<line x1="481.90" y1="113.50" x2="484.50" y2="113.50" stroke="#000" stroke-width="0.95"/>
<text x="476.80" y="116.00" font-family='"Liberation Sans", sans-serif' font-size="7.7" font-weight="bold" text-anchor="end" fill="#000"  stroke="#000" stroke-width="0.22">20</text>
<line x1="481.90" y1="137.50" x2="484.50" y2="137.50" stroke="#000" stroke-width="0.95"/>
<text x="476.80" y="140.00" font-family='"Liberation Sans", sans-serif' font-size="7.7" font-weight="bold" text-anchor="end" fill="#000"  stroke="#000" stroke-width="0.22">0</text>
<text x="517.60" y="151.00" font-family='"Liberation Sans", sans-serif' font-size="7.7" font-weight="bold" text-anchor="middle" fill="#000"  stroke="#000" stroke-width="0.22">0</text>
<text x="584.00" y="151.00" font-family='"Liberation Sans", sans-serif' font-size="7.7" font-weight="bold" text-anchor="middle" fill="#000"  stroke="#000" stroke-width="0.22">3</text>
<text x="650.40" y="151.00" font-family='"Liberation Sans", sans-serif' font-size="7.7" font-weight="bold" text-anchor="middle" fill="#000"  stroke="#000" stroke-width="0.22">6</text>
<text x="589.00" y="160.80" font-family='"Liberation Serif", serif' font-size="8.6" font-weight="bold" text-anchor="middle" fill="#111" textLength="55.5" lengthAdjust="spacingAndGlyphs" stroke="#000" stroke-width="0.28">Time (Months)</text>
<text transform="translate(459.80,84.70) rotate(-90)" font-family='"Liberation Serif", serif' font-size="8.3" font-weight="bold" text-anchor="middle" fill="#000" stroke="#000" stroke-width="0.28" textLength="92.6" lengthAdjust="spacingAndGlyphs">HDL-cholesterol (mg/dL)</text>
<text x="451.60" y="10.00" font-family='"Liberation Serif", serif' font-size="10.5" font-weight="bold" text-anchor="start" fill="#000"  stroke="#000" stroke-width="0.28">c</text>
<rect x="487.80" y="15.75" width="3.70" height="3.70" fill="#fff" stroke="#222" stroke-width="0.7"/>
<text x="498.00" y="19.68" font-family='"Liberation Sans", sans-serif' font-size="5.8" font-weight="bold" text-anchor="start" fill="#000"  stroke="#000" stroke-width="0.22">Ctrl</text>
<rect x="487.80" y="23.15" width="3.70" height="3.70" fill="#b8b8b8" stroke="#999" stroke-width="0.5"/>
<text x="498.00" y="27.08" font-family='"Liberation Sans", sans-serif' font-size="5.8" font-weight="bold" text-anchor="start" fill="#000"  stroke="#000" stroke-width="0.22">RS</text>
<rect x="487.80" y="30.55" width="3.70" height="3.70" fill="url(#hatchs)" stroke="#222" stroke-width="0.7"/>
<text x="498.00" y="34.48" font-family='"Liberation Sans", sans-serif' font-size="5.8" font-weight="bold" text-anchor="start" fill="#000"  stroke="#000" stroke-width="0.22">DJ</text>
<rect x="487.80" y="38.15" width="3.70" height="3.70" fill="#000" stroke="#000" stroke-width="0.5"/>
<text x="498.00" y="42.08" font-family='"Liberation Sans", sans-serif' font-size="5.8" font-weight="bold" text-anchor="start" fill="#000"  stroke="#000" stroke-width="0.22">DJS26</text>
<line x1="565.40" y1="34.50" x2="602.00" y2="34.50" stroke="#555" stroke-width="1.0"/>
<text x="583.40" y="37" font-family='"Liberation Serif", serif' font-size="12" text-anchor="middle" fill="#000" text-rendering="geometricPrecision">*</text>
<line x1="565.40" y1="42.50" x2="589.40" y2="42.50" stroke="#555" stroke-width="1.0"/>
<text x="577.40" y="44" font-family='"Liberation Serif", serif' font-size="12" text-anchor="middle" fill="#000" text-rendering="geometricPrecision">*</text>
<line x1="578.40" y1="49.50" x2="602.60" y2="49.50" stroke="#555" stroke-width="1.0"/>
<text x="590.60" y="53" font-family='"Liberation Serif", serif' font-size="12" text-anchor="middle" fill="#000" text-rendering="geometricPrecision">*</text>
<line x1="578.00" y1="58.50" x2="590.40" y2="58.50" stroke="#555" stroke-width="1.0"/>
<text x="583.60" y="61" font-family='"Liberation Serif", serif' font-size="12" text-anchor="middle" fill="#000" text-rendering="geometricPrecision">*</text>
<line x1="632.00" y1="42.50" x2="668.00" y2="42.50" stroke="#555" stroke-width="1.0"/>
<text x="648.40" y="44" font-family='"Liberation Serif", serif' font-size="12" text-anchor="middle" fill="#000" text-rendering="geometricPrecision">*</text>
<line x1="632.00" y1="51.50" x2="654.60" y2="51.50" stroke="#555" stroke-width="1.0"/>
<text x="642.70" y="54" font-family='"Liberation Serif", serif' font-size="12" text-anchor="middle" fill="#000" text-rendering="geometricPrecision" letter-spacing="-0.6">***</text>
<line x1="632.00" y1="58.50" x2="644.60" y2="58.50" stroke="#555" stroke-width="1.0"/>
<text x="638.00" y="62" font-family='"Liberation Serif", serif' font-size="12" text-anchor="middle" fill="#000" text-rendering="geometricPrecision">*</text>
<line x1="111.50" y1="313.40" x2="111.50" y2="311.50" stroke="#4a4a4a" stroke-width="0.9"/>
<line x1="110.00" y1="311.50" x2="113.00" y2="311.50" stroke="#4a4a4a" stroke-width="0.9"/>
<line x1="125.50" y1="309.40" x2="125.50" y2="307.50" stroke="#4a4a4a" stroke-width="0.9"/>
<line x1="124.00" y1="307.50" x2="127.00" y2="307.50" stroke="#4a4a4a" stroke-width="0.9"/>
<line x1="139.50" y1="312.00" x2="139.50" y2="309.50" stroke="#4a4a4a" stroke-width="0.9"/>
<line x1="138.00" y1="309.50" x2="141.00" y2="309.50" stroke="#4a4a4a" stroke-width="0.9"/>
<line x1="153.50" y1="316.40" x2="153.50" y2="314.50" stroke="#4a4a4a" stroke-width="0.9"/>
<line x1="152.00" y1="314.50" x2="155.00" y2="314.50" stroke="#4a4a4a" stroke-width="0.9"/>
<line x1="186.50" y1="298.40" x2="186.50" y2="288.50" stroke="#4a4a4a" stroke-width="0.9"/>
<line x1="185.00" y1="288.50" x2="188.00" y2="288.50" stroke="#4a4a4a" stroke-width="0.9"/>
<line x1="200.50" y1="299.40" x2="200.50" y2="290.50" stroke="#4a4a4a" stroke-width="0.9"/>
<line x1="199.00" y1="290.50" x2="202.00" y2="290.50" stroke="#4a4a4a" stroke-width="0.9"/>
<line x1="214.50" y1="302.00" x2="214.50" y2="297.50" stroke="#4a4a4a" stroke-width="0.9"/>
<line x1="213.00" y1="297.50" x2="216.00" y2="297.50" stroke="#4a4a4a" stroke-width="0.9"/>
<line x1="228.50" y1="300.00" x2="228.50" y2="295.50" stroke="#4a4a4a" stroke-width="0.9"/>
<line x1="227.00" y1="295.50" x2="230.00" y2="295.50" stroke="#4a4a4a" stroke-width="0.9"/>
<line x1="263.50" y1="295.40" x2="263.50" y2="288.50" stroke="#4a4a4a" stroke-width="0.9"/>
<line x1="262.00" y1="288.50" x2="265.00" y2="288.50" stroke="#4a4a4a" stroke-width="0.9"/>
<line x1="276.50" y1="299.60" x2="276.50" y2="295.50" stroke="#4a4a4a" stroke-width="0.9"/>
<line x1="275.00" y1="295.50" x2="278.00" y2="295.50" stroke="#4a4a4a" stroke-width="0.9"/>
<line x1="290.50" y1="305.40" x2="290.50" y2="298.50" stroke="#4a4a4a" stroke-width="0.9"/>
<line x1="289.00" y1="298.50" x2="292.00" y2="298.50" stroke="#4a4a4a" stroke-width="0.9"/>
<line x1="304.50" y1="307.00" x2="304.50" y2="301.50" stroke="#4a4a4a" stroke-width="0.9"/>
<line x1="303.00" y1="301.50" x2="306.00" y2="301.50" stroke="#4a4a4a" stroke-width="0.9"/>
<line x1="94.50" y1="185.20" x2="94.50" y2="321.90" stroke="#000" stroke-width="1.05"/>
<line x1="91.90" y1="319.50" x2="321.60" y2="319.50" stroke="#000" stroke-width="1.05"/>
<line x1="170.50" y1="319.50" x2="170.50" y2="322.10" stroke="#000" stroke-width="0.95"/>
<line x1="246.50" y1="319.50" x2="246.50" y2="322.10" stroke="#000" stroke-width="0.95"/>
<line x1="321.50" y1="319.50" x2="321.50" y2="322.10" stroke="#000" stroke-width="0.95"/>
<line x1="91.90" y1="185.50" x2="94.50" y2="185.50" stroke="#000" stroke-width="0.95"/>
<text x="86.60" y="187.00" font-family='"Liberation Sans", sans-serif' font-size="7.7" font-weight="bold" text-anchor="end" fill="#000"  stroke="#000" stroke-width="0.22">200</text>
<line x1="91.90" y1="218.50" x2="94.50" y2="218.50" stroke="#000" stroke-width="0.95"/>
<text x="86.60" y="221.00" font-family='"Liberation Sans", sans-serif' font-size="7.7" font-weight="bold" text-anchor="end" fill="#000"  stroke="#000" stroke-width="0.22">150</text>
<line x1="91.90" y1="252.50" x2="94.50" y2="252.50" stroke="#000" stroke-width="0.95"/>
<text x="86.60" y="254.00" font-family='"Liberation Sans", sans-serif' font-size="7.7" font-weight="bold" text-anchor="end" fill="#000"  stroke="#000" stroke-width="0.22">100</text>
<line x1="91.90" y1="285.50" x2="94.50" y2="285.50" stroke="#000" stroke-width="0.95"/>
<text x="86.60" y="288.00" font-family='"Liberation Sans", sans-serif' font-size="7.7" font-weight="bold" text-anchor="end" fill="#000"  stroke="#000" stroke-width="0.22">50</text>
<line x1="91.90" y1="319.50" x2="94.50" y2="319.50" stroke="#000" stroke-width="0.95"/>
<text x="86.60" y="321.00" font-family='"Liberation Sans", sans-serif' font-size="7.7" font-weight="bold" text-anchor="end" fill="#000"  stroke="#000" stroke-width="0.22">0</text>
<text x="131.60" y="333.00" font-family='"Liberation Sans", sans-serif' font-size="7.7" font-weight="bold" text-anchor="middle" fill="#000"  stroke="#000" stroke-width="0.22">0</text>
<text x="207.00" y="333.00" font-family='"Liberation Sans", sans-serif' font-size="7.7" font-weight="bold" text-anchor="middle" fill="#000"  stroke="#000" stroke-width="0.22">3</text>
<text x="283.00" y="333.00" font-family='"Liberation Sans", sans-serif' font-size="7.7" font-weight="bold" text-anchor="middle" fill="#000"  stroke="#000" stroke-width="0.22">6</text>
<text x="208.30" y="342.20" font-family='"Liberation Serif", serif' font-size="8.6" font-weight="bold" text-anchor="middle" fill="#111" textLength="55.5" lengthAdjust="spacingAndGlyphs" stroke="#000" stroke-width="0.28">Time (Months)</text>
<text transform="translate(64.60,261.55) rotate(-90)" font-family='"Liberation Serif", serif' font-size="8.3" font-weight="bold" text-anchor="middle" fill="#000" stroke="#000" stroke-width="0.28" textLength="93.9" lengthAdjust="spacingAndGlyphs">LDL-cholesterol (mg/dL)</text>
<text x="56.00" y="189.00" font-family='"Liberation Serif", serif' font-size="10.5" font-weight="bold" text-anchor="start" fill="#000"  stroke="#000" stroke-width="0.28">d</text>
<rect x="98.00" y="185.20" width="4.40" height="4.40" fill="#fff" stroke="#222" stroke-width="0.7"/>
<text x="110.00" y="189.87" font-family='"Liberation Sans", sans-serif' font-size="6.9" font-weight="bold" text-anchor="start" fill="#000"  stroke="#000" stroke-width="0.22">Ctrl</text>
<rect x="98.00" y="194.20" width="4.40" height="4.40" fill="#b8b8b8" stroke="#999" stroke-width="0.5"/>
<text x="110.00" y="198.87" font-family='"Liberation Sans", sans-serif' font-size="6.9" font-weight="bold" text-anchor="start" fill="#000"  stroke="#000" stroke-width="0.22">RS</text>
<rect x="98.00" y="202.40" width="4.40" height="4.40" fill="url(#hatchs)" stroke="#222" stroke-width="0.7"/>
<text x="110.00" y="207.07" font-family='"Liberation Sans", sans-serif' font-size="6.9" font-weight="bold" text-anchor="start" fill="#000"  stroke="#000" stroke-width="0.22">DJ</text>
<rect x="98.00" y="211.20" width="4.40" height="4.40" fill="#000" stroke="#000" stroke-width="0.5"/>
<text x="110.00" y="215.87" font-family='"Liberation Sans", sans-serif' font-size="6.9" font-weight="bold" text-anchor="start" fill="#000"  stroke="#000" stroke-width="0.22">DJS26</text>
<line x1="375.50" y1="246.40" x2="375.50" y2="238.50" stroke="#4a4a4a" stroke-width="0.9"/>
<line x1="374.00" y1="238.50" x2="377.00" y2="238.50" stroke="#4a4a4a" stroke-width="0.9"/>
<line x1="389.50" y1="249.40" x2="389.50" y2="236.50" stroke="#4a4a4a" stroke-width="0.9"/>
<line x1="388.00" y1="236.50" x2="391.00" y2="236.50" stroke="#4a4a4a" stroke-width="0.9"/>
<line x1="403.50" y1="250.00" x2="403.50" y2="241.50" stroke="#4a4a4a" stroke-width="0.9"/>
<line x1="402.00" y1="241.50" x2="405.00" y2="241.50" stroke="#4a4a4a" stroke-width="0.9"/>
<line x1="417.50" y1="236.20" x2="417.50" y2="218.50" stroke="#4a4a4a" stroke-width="0.9"/>
<line x1="416.00" y1="218.50" x2="419.00" y2="218.50" stroke="#4a4a4a" stroke-width="0.9"/>
<line x1="452.50" y1="258.40" x2="452.50" y2="252.50" stroke="#4a4a4a" stroke-width="0.9"/>
<line x1="451.00" y1="252.50" x2="454.00" y2="252.50" stroke="#4a4a4a" stroke-width="0.9"/>
<line x1="466.50" y1="254.60" x2="466.50" y2="243.50" stroke="#4a4a4a" stroke-width="0.9"/>
<line x1="465.00" y1="243.50" x2="468.00" y2="243.50" stroke="#4a4a4a" stroke-width="0.9"/>
<line x1="480.50" y1="267.00" x2="480.50" y2="259.50" stroke="#4a4a4a" stroke-width="0.9"/>
<line x1="479.00" y1="259.50" x2="482.00" y2="259.50" stroke="#4a4a4a" stroke-width="0.9"/>
<line x1="494.50" y1="264.60" x2="494.50" y2="255.50" stroke="#4a4a4a" stroke-width="0.9"/>
<line x1="493.00" y1="255.50" x2="496.00" y2="255.50" stroke="#4a4a4a" stroke-width="0.9"/>
<line x1="529.50" y1="231.40" x2="529.50" y2="223.50" stroke="#4a4a4a" stroke-width="0.9"/>
<line x1="528.00" y1="223.50" x2="531.00" y2="223.50" stroke="#4a4a4a" stroke-width="0.9"/>
<line x1="542.50" y1="214.60" x2="542.50" y2="198.50" stroke="#4a4a4a" stroke-width="0.9"/>
<line x1="541.00" y1="198.50" x2="544.00" y2="198.50" stroke="#4a4a4a" stroke-width="0.9"/>
<line x1="556.50" y1="234.60" x2="556.50" y2="218.50" stroke="#4a4a4a" stroke-width="0.9"/>
<line x1="555.00" y1="218.50" x2="558.00" y2="218.50" stroke="#4a4a4a" stroke-width="0.9"/>
<line x1="570.50" y1="235.40" x2="570.50" y2="221.50" stroke="#4a4a4a" stroke-width="0.9"/>
<line x1="569.00" y1="221.50" x2="572.00" y2="221.50" stroke="#4a4a4a" stroke-width="0.9"/>
<line x1="357.50" y1="185.30" x2="357.50" y2="319.90" stroke="#000" stroke-width="1.05"/>
<line x1="354.90" y1="317.50" x2="588.00" y2="317.50" stroke="#000" stroke-width="1.05"/>
<line x1="434.50" y1="317.50" x2="434.50" y2="320.10" stroke="#000" stroke-width="0.95"/>
<line x1="511.50" y1="317.50" x2="511.50" y2="320.10" stroke="#000" stroke-width="0.95"/>
<line x1="588.50" y1="317.50" x2="588.50" y2="320.10" stroke="#000" stroke-width="0.95"/>
<line x1="354.90" y1="185.50" x2="357.50" y2="185.50" stroke="#000" stroke-width="0.95"/>
<text x="350.30" y="188.00" font-family='"Liberation Sans", sans-serif' font-size="7.7" font-weight="bold" text-anchor="end" fill="#000"  stroke="#000" stroke-width="0.22">120</text>
<line x1="354.90" y1="207.50" x2="357.50" y2="207.50" stroke="#000" stroke-width="0.95"/>
<text x="350.30" y="210.00" font-family='"Liberation Sans", sans-serif' font-size="7.7" font-weight="bold" text-anchor="end" fill="#000"  stroke="#000" stroke-width="0.22">100</text>
<line x1="354.90" y1="229.50" x2="357.50" y2="229.50" stroke="#000" stroke-width="0.95"/>
<text x="350.30" y="233.00" font-family='"Liberation Sans", sans-serif' font-size="7.7" font-weight="bold" text-anchor="end" fill="#000"  stroke="#000" stroke-width="0.22">80</text>
<line x1="354.90" y1="251.50" x2="357.50" y2="251.50" stroke="#000" stroke-width="0.95"/>
<text x="350.30" y="255.00" font-family='"Liberation Sans", sans-serif' font-size="7.7" font-weight="bold" text-anchor="end" fill="#000"  stroke="#000" stroke-width="0.22">60</text>
<line x1="354.90" y1="273.50" x2="357.50" y2="273.50" stroke="#000" stroke-width="0.95"/>
<text x="350.30" y="277.00" font-family='"Liberation Sans", sans-serif' font-size="7.7" font-weight="bold" text-anchor="end" fill="#000"  stroke="#000" stroke-width="0.22">40</text>
<line x1="354.90" y1="295.50" x2="357.50" y2="295.50" stroke="#000" stroke-width="0.95"/>
<text x="350.30" y="299.00" font-family='"Liberation Sans", sans-serif' font-size="7.7" font-weight="bold" text-anchor="end" fill="#000"  stroke="#000" stroke-width="0.22">20</text>
<line x1="354.90" y1="317.50" x2="357.50" y2="317.50" stroke="#000" stroke-width="0.95"/>
<text x="350.30" y="321.00" font-family='"Liberation Sans", sans-serif' font-size="7.7" font-weight="bold" text-anchor="end" fill="#000"  stroke="#000" stroke-width="0.22">0</text>
<text x="396.40" y="332.00" font-family='"Liberation Sans", sans-serif' font-size="7.7" font-weight="bold" text-anchor="middle" fill="#000"  stroke="#000" stroke-width="0.22">0</text>
<text x="473.00" y="332.00" font-family='"Liberation Sans", sans-serif' font-size="7.7" font-weight="bold" text-anchor="middle" fill="#000"  stroke="#000" stroke-width="0.22">3</text>
<text x="550.40" y="332.00" font-family='"Liberation Sans", sans-serif' font-size="7.7" font-weight="bold" text-anchor="middle" fill="#000"  stroke="#000" stroke-width="0.22">6</text>
<text x="476.30" y="341.40" font-family='"Liberation Serif", serif' font-size="8.6" font-weight="bold" text-anchor="middle" fill="#111" textLength="55.5" lengthAdjust="spacingAndGlyphs" stroke="#000" stroke-width="0.28">Time (Months)</text>
<text transform="translate(329.80,255.80) rotate(-90)" font-family='"Liberation Serif", serif' font-size="8.3" font-weight="bold" text-anchor="middle" fill="#000" stroke="#000" stroke-width="0.28" textLength="78.0" lengthAdjust="spacingAndGlyphs">Triglyceride (mg/dL)</text>
<text x="317.00" y="189.60" font-family='"Liberation Serif", serif' font-size="10.5" font-weight="bold" text-anchor="start" fill="#000"  stroke="#000" stroke-width="0.28">e</text>
<rect x="362.60" y="185.80" width="4.40" height="4.40" fill="#fff" stroke="#222" stroke-width="0.7"/>
<text x="374.40" y="190.43" font-family='"Liberation Sans", sans-serif' font-size="6.8" font-weight="bold" text-anchor="start" fill="#000"  stroke="#000" stroke-width="0.22">Ctrl</text>
<rect x="362.60" y="194.40" width="4.40" height="4.40" fill="#b8b8b8" stroke="#999" stroke-width="0.5"/>
<text x="374.40" y="199.03" font-family='"Liberation Sans", sans-serif' font-size="6.8" font-weight="bold" text-anchor="start" fill="#000"  stroke="#000" stroke-width="0.22">RS</text>
<rect x="362.60" y="202.40" width="4.40" height="4.40" fill="url(#hatchs)" stroke="#222" stroke-width="0.7"/>
<text x="374.40" y="207.03" font-family='"Liberation Sans", sans-serif' font-size="6.8" font-weight="bold" text-anchor="start" fill="#000"  stroke="#000" stroke-width="0.22">DJ</text>
<rect x="362.60" y="210.80" width="4.40" height="4.40" fill="#000" stroke="#000" stroke-width="0.5"/>
<text x="374.40" y="215.43" font-family='"Liberation Sans", sans-serif' font-size="6.8" font-weight="bold" text-anchor="start" fill="#000"  stroke="#000" stroke-width="0.22">DJS26</text>
<line x1="404.40" y1="215.50" x2="419.00" y2="215.50" stroke="#555" stroke-width="1.0"/>
<text x="411.40" y="218" font-family='"Liberation Serif", serif' font-size="12" text-anchor="middle" fill="#000" text-rendering="geometricPrecision">*</text>
<line x1="453.00" y1="225.50" x2="481.60" y2="225.50" stroke="#555" stroke-width="1.0"/>
<text x="467.40" y="229" font-family='"Liberation Serif", serif' font-size="12" text-anchor="middle" fill="#000" text-rendering="geometricPrecision">*</text>
<line x1="466.40" y1="234.50" x2="494.60" y2="234.50" stroke="#555" stroke-width="1.0"/>
<text x="480.60" y="237" font-family='"Liberation Serif", serif' font-size="12" text-anchor="middle" fill="#000" text-rendering="geometricPrecision">*</text>
<line x1="467.00" y1="241.50" x2="481.00" y2="241.50" stroke="#555" stroke-width="1.0"/>
<text x="474.00" y="244" font-family='"Liberation Serif", serif' font-size="12" text-anchor="middle" fill="#000" text-rendering="geometricPrecision">*</text>
<line x1="542.00" y1="187.50" x2="570.00" y2="187.50" stroke="#555" stroke-width="1.0"/>
<text x="556.40" y="190" font-family='"Liberation Serif", serif' font-size="12" text-anchor="middle" fill="#000" text-rendering="geometricPrecision">*</text>
<line x1="542.00" y1="196.50" x2="557.00" y2="196.50" stroke="#555" stroke-width="1.0"/>
<text x="549.60" y="199" font-family='"Liberation Serif", serif' font-size="12" text-anchor="middle" fill="#000" text-rendering="geometricPrecision">*</text>
</g>
</svg>
</body></html>
